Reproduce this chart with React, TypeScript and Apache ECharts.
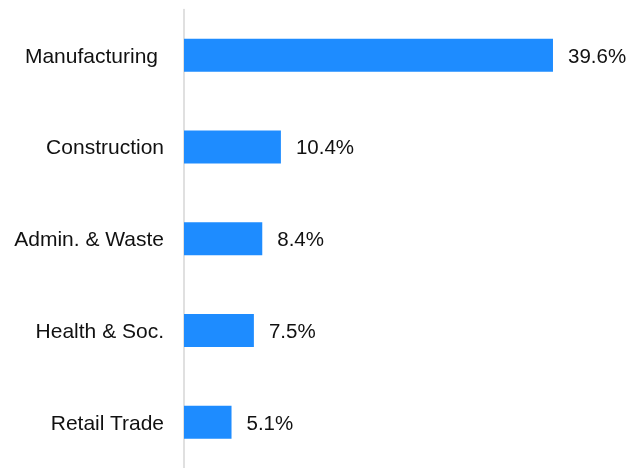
import React, { useEffect, useRef } from "react";
import * as echarts from "echarts";

const categories = ["Manufacturing", "Construction", "Admin. & Waste", "Health & Soc.", "Retail Trade"];
const values = [39.6, 10.4, 8.4, 7.5, 5.1];

export default function App() {
  const ref = useRef<HTMLDivElement>(null);
  useEffect(() => {
    if (!ref.current) return;
    const chart = echarts.init(ref.current, null, { renderer: "svg" });
    chart.setOption({
      animation: false,
      grid: { left: 184, right: 27.7, top: 9.4, bottom: -2.6, containLabel: false },
      xAxis: {
        type: "value",
        min: 0,
        max: 45,
        show: false,
      },
      yAxis: {
        type: "category",
        data: categories,
        inverse: true,
        axisTick: { show: false },
        axisLine: { show: true, lineStyle: { color: "#d6d6d6", width: 1.5 } },
        axisLabel: {
          margin: 20,
          fontSize: 21,
          color: "#111",
          fontFamily: "Liberation Sans, Arial, sans-serif",
          formatter: (v: string, i: number) => (i === 0 ? "{p|" + v + "}" : v),
          rich: {
            p: {
              fontSize: 21,
              color: "#111",
              fontFamily: "Liberation Sans, Arial, sans-serif",
              padding: [0, 6, 0, 0],
            },
          },
        },
        splitLine: { show: false },
      },
      series: [
        {
          type: "bar",
          data: values,
          barWidth: 33,
          itemStyle: { color: "#1E8CFF" },
          label: {
            show: true,
            position: "right",
            distance: 15,
            formatter: "{c}%",
            fontSize: 20.5,
            color: "#111",
            fontFamily: "Liberation Sans, Arial, sans-serif",
          },
        },
      ],
    });
    return () => chart.dispose();
  }, []);
  return <div ref={ref} style={{ position: "fixed", left: 0, top: 0, width: 631, height: 468 }} />;
}
